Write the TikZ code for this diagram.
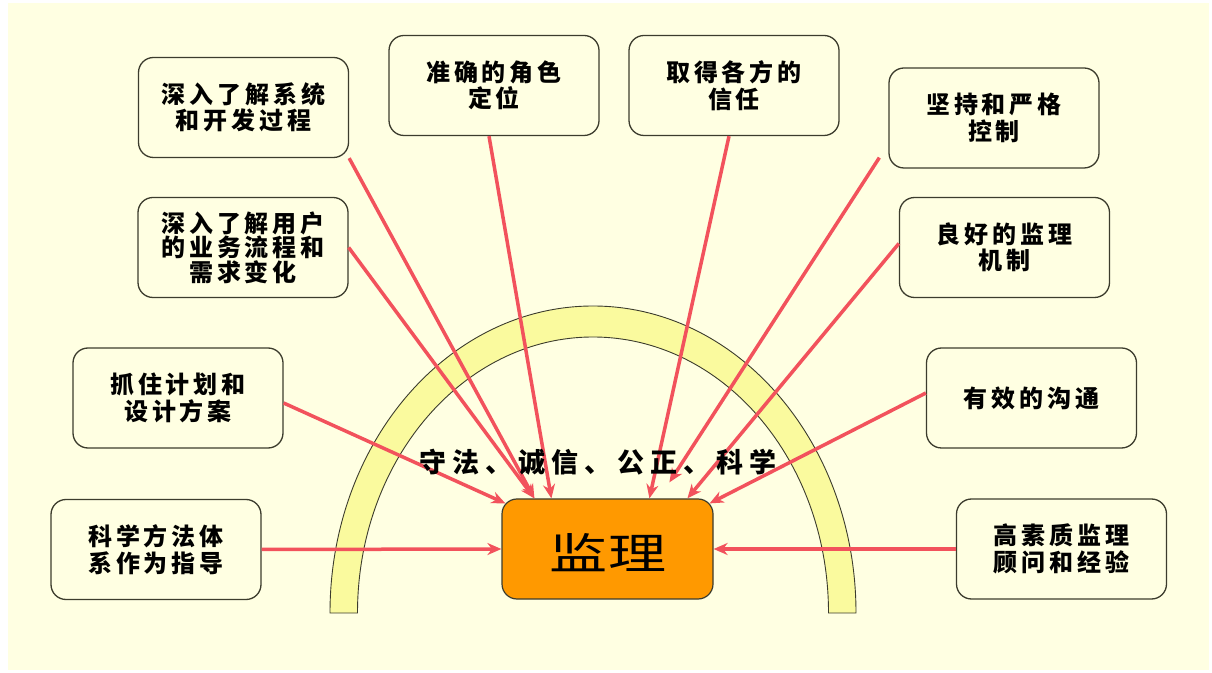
\documentclass[tikz,border=0pt]{standalone}
\usepackage{fontspec}
\newfontfamily\cjk{Noto Sans CJK SC}
\usetikzlibrary{arrows.meta,calc}
\definecolor{bgc}{RGB}{255,255,226}
\definecolor{archc}{RGB}{250,250,158}
\definecolor{linec}{RGB}{242,82,92}
\definecolor{orangec}{RGB}{255,153,0}
\definecolor{edgec}{RGB}{60,60,45}
\begin{document}
\begin{tikzpicture}[x=1pt,y=1pt,
  box/.style={draw=edgec, line width=1.3pt, fill=bgc, rounded corners=15pt,
    minimum width=210pt, minimum height=100pt, inner sep=0pt, align=center,
    font=\cjk\bfseries\fontsize{24}{26.5}\selectfont\addfontfeatures{LetterSpace=16}},
  arr/.style={draw=linec, line width=3.5pt, -{Stealth[length=14pt,width=12pt]}},
  ]
  % background
  \useasboundingbox (0,0) rectangle (1212,672);
  \fill[white] (0,0) rectangle (1212,672);
  \fill[bgc] (8,2) rectangle (1209,669);

  % arch
  \path[draw=edgec, line width=0.9pt, fill=archc]
    (330,59) arc[start angle=180, end angle=0, x radius=263, y radius=307]
    -- (828.5,59) arc[start angle=0, end angle=180, x radius=235.5, y radius=276]
    -- cycle;

  % boxes
  \node[box] (b1) at (243.5,564.5) {深入了解系统\\和开发过程};
  \node[box, font=\cjk\bfseries\fontsize{24}{24.5}\selectfont\addfontfeatures{LetterSpace=16}] (b2) at (243,424.5) {深入了解用户\\的业务流程和\\需求变化};
  \node[box] (b3) at (494,586.5) {准确的角色\\定位};
  \node[box] (b4) at (734,586.5) {取得各方的\\信任};
  \node[box] (b5) at (994,554) {坚持和严格\\控制};
  \node[box] (b6) at (1004.5,424.5) {良好的监理\\机制};
  \node[box] (b7) at (178,274) {抓住计划和\\设计方案};
  \node[box] (b8) at (156,122.5) {科学方法体\\系作为指导};
  \node[box] (b9) at (1031.5,274) {有效的沟通};
  \node[box] (b10) at (1061.5,123) {高素质监理\\顾问和经验};

  % centre
  \node[draw=edgec, line width=1.2pt, fill=orangec, rounded corners=15pt,
        minimum width=211pt, minimum height=100pt, inner sep=0pt] (c) at (607.5,123) {};
  \node[font=\cjk\fontsize{43}{43}\selectfont, xscale=1.35, transform shape, inner sep=0pt] (ct) at (608,119) {监理};

  % arrow targets
  \coordinate (t1) at ([xshift=33pt]c.north west);
  \coordinate (t3) at ([xshift=50pt]c.north west);
  \coordinate (t4) at ([xshift=148pt]c.north west);
  \coordinate (t5) at ([shift={(168pt,16pt)}]c.north west);
  \coordinate (t6) at ([xshift=186pt]c.north west);
  \coordinate (t7) at ([shift={(4pt,-5pt)}]c.north west);
  \coordinate (t9) at ([shift={(-4pt,-5pt)}]c.north east);

  % arrows
  \draw[arr] (b1.south east) -- (t1);
  \draw[arr] (b2.east) -- (t1);
  \draw[arr] ([xshift=-5pt]b3.south) -- (t3);
  \draw[arr] ([xshift=-5pt]b4.south) -- (t4);
  \draw[arr] ([shift={(-9pt,11pt)}]b5.south west) -- (t5);
  \draw[arr] ([yshift=4pt]b6.west) -- (t6);
  \draw[arr] ([yshift=-5pt]b7.east) -- (t7);
  \draw[arr] ([yshift=5pt]b9.west) -- (t9);
  \draw[arr] (b8.east) -- (c.west);
  \draw[arr] (b10.west) -- (c.east);

  % motto
  \node[font=\cjk\bfseries\fontsize{27}{30}\selectfont\addfontfeatures{LetterSpace=22}, inner sep=0pt] (lab) at (598,210) {守法、诚信、公正、科学};
\end{tikzpicture}
\end{document}
